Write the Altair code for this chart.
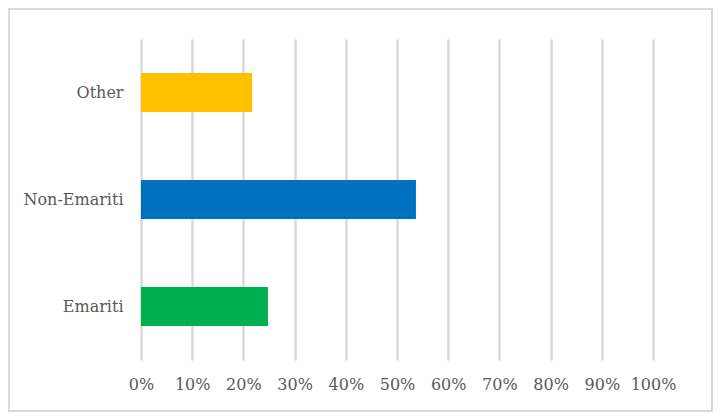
import altair as alt
import pandas as pd

categories = ["Other", "Non-Emariti", "Emariti"]
shares = [0.217, 0.537, 0.248]
colors = ["#FFC000", "#0070C0", "#00B050"]
tick_values = [0, 0.1, 0.2, 0.3, 0.4, 0.5, 0.6, 0.7, 0.8, 0.9, 1.0]

df = pd.DataFrame({"category": categories, "share": shares, "color": colors})

FONT = "DejaVu Serif"
TEXT = "#595959"
GRID = "#d9d9d9"

bars = alt.Chart(df).mark_bar().encode(
    y=alt.Y(
        "category:N",
        sort=categories,
        scale=alt.Scale(paddingInner=0.636, paddingOuter=0.318),
        axis=alt.Axis(title=None, ticks=False, domain=False, labelPadding=18,
                      labelFont=FONT, labelFontSize=16, labelColor=TEXT),
    ),
    x=alt.X(
        "share:Q",
        scale=alt.Scale(domain=[0, 1], nice=False),
        axis=alt.Axis(title=None, format=".0%", values=tick_values, grid=True,
                      gridColor=GRID, gridWidth=2.5, ticks=False, domain=False,
                      labelPadding=16, labelFont=FONT, labelFontSize=16,
                      labelColor=TEXT, labelOverlap=False, labelFlush=False),
    ),
    color=alt.Color("color:N", scale=None, legend=None),
)

border = alt.Chart(pd.DataFrame({"a": [0]})).mark_rect(
    fillOpacity=0, stroke=GRID, strokeWidth=2
).encode(
    x=alt.value(-132), x2=alt.value(571), y=alt.value(-30), y2=alt.value(372)
)

chart = alt.layer(bars, border).properties(
    width=512, height=321,
    padding={"left": 133, "top": 31, "right": 60, "bottom": 52},
    autosize=alt.AutoSizeParams(type="none"),
).configure_view(stroke=None)

chart.save("out.html", embed_options={"renderer": "svg", "actions": False})
